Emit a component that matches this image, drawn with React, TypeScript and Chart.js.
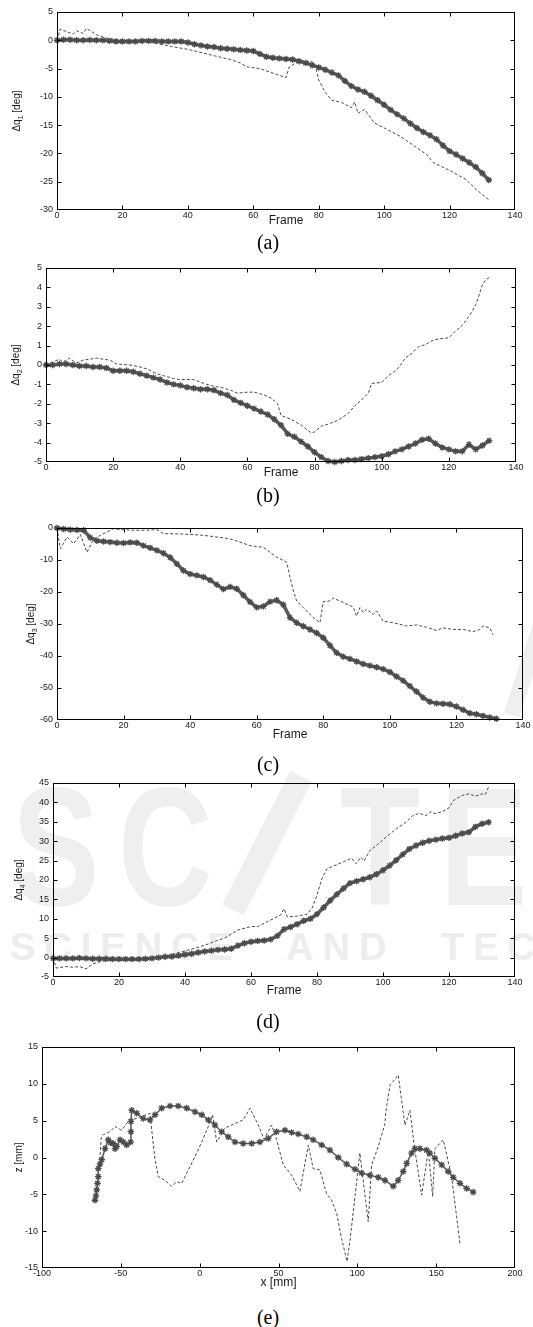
import React, { useEffect, useRef } from "react";
import { Chart, registerables } from "chart.js";

Chart.register(...registerables);

// ---------------- DATA ----------------
const FRAMES = [0, 2, 4, 6, 8, 10, 12, 14, 16, 18, 20, 22, 24, 26, 28, 30, 32, 34, 36, 38, 40, 42, 44, 46, 48, 50, 52, 54, 56, 58, 60, 62, 64, 66, 68, 70, 72, 74, 76, 78, 80, 82, 84, 86, 88, 90, 92, 94, 96, 98, 100, 102, 104, 106, 108, 110, 112, 114, 116, 118, 120, 122, 124, 126, 128, 130, 132];

// (a) joint 1
const Q1_TRACK = [0, 0.1, 0.1, 0, 0, 0.05, 0, 0, -0.1, -0.2,
  -0.2, -0.2, -0.2, -0.1, -0.1, -0.1, -0.2, -0.2, -0.2, -0.2,
  -0.4, -0.7, -0.9, -1.1, -1.2, -1.4, -1.5, -1.6, -1.7, -1.8,
  -1.9, -2.4, -2.9, -3.1, -3.2, -3.3, -3.4, -3.7, -4.0, -4.4,
  -4.8, -5.2, -5.7, -6.2, -7.2, -8.1, -8.7, -9.1, -9.8, -10.6,
  -11.4, -12.3, -13.1, -13.8, -14.7, -15.5, -16.2, -16.8, -17.5, -18.6,
  -19.6, -20.2, -20.9, -21.6, -22.4, -23.5, -24.7];
const Q1_EST_F = [0, 1, 3, 5, 6, 8, 9, 12, 15, 20, 25, 30, 35, 40, 45, 50, 53, 56, 58, 62, 65, 68, 70, 71, 73, 75, 78, 79, 80, 82, 84, 87, 90, 91, 92, 94, 97, 100, 105, 110, 113, 115, 120, 125, 128, 132];
const Q1_EST = [0, 2.0, 1.5, 1.1, 1.7, 1.2, 2.1, 1.0, 0.4, 0.0, -0.2, -0.5, -1.1, -1.6, -2.3, -3.0, -3.4, -4.0, -4.7, -5.0, -5.6, -6.2, -6.6, -4.7, -4.0, -3.7, -3.8, -4.5, -7.0, -9.2, -10.6, -11.0, -11.9, -10.9, -12.9, -12.2, -14.6, -15.5, -17.0, -19.0, -20.2, -21.6, -23.0, -24.6, -26.3, -28.2];

// (b) joint 2
const Q2_TRACK = [0, 0, 0.05, 0.05, 0, -0.05, -0.05, -0.1, -0.1, -0.15,
  -0.3, -0.3, -0.3, -0.35, -0.45, -0.55, -0.65, -0.75, -0.9, -1.0,
  -1.05, -1.15, -1.2, -1.25, -1.25, -1.3, -1.45, -1.55, -1.8, -1.95,
  -2.1, -2.25, -2.4, -2.55, -2.8, -3.1, -3.55, -3.7, -3.95, -4.2,
  -4.5, -4.75, -4.95, -5.0, -4.95, -4.9, -4.9, -4.85, -4.8, -4.75,
  -4.7, -4.6, -4.45, -4.35, -4.2, -4.05, -3.85, -3.8, -4.05, -4.25,
  -4.35, -4.45, -4.45, -4.1, -4.35, -4.15, -3.9];
const Q2_EST_F = [0, 2, 4, 5, 7, 9, 11, 13, 15, 17, 19, 21, 25, 28, 30, 33, 35, 38, 40, 44, 47, 50, 52, 55, 57, 60, 62, 65, 67, 69, 70, 73, 76, 79, 80, 82, 84, 87, 90, 92, 94, 96, 97, 100, 102, 104, 105, 107, 109, 111, 113, 115, 117, 120, 122, 124, 126, 128, 129, 130, 131, 132];
const Q2_EST = [0, 0.15, 0.3, 0.15, 0.35, 0.1, 0.25, 0.3, 0.35, 0.3, 0.25, 0.05, 0, -0.1, -0.2, -0.45, -0.55, -0.7, -0.75, -0.75, -0.95, -1.1, -1.15, -1.3, -1.45, -1.4, -1.4, -1.55, -1.7, -2.0, -2.6, -2.8, -3.1, -3.5, -3.45, -3.15, -3.05, -2.85, -2.5, -2.1, -1.8, -1.45, -0.95, -0.9, -0.55, -0.3, -0.15, 0.35, 0.6, 0.95, 1.05, 1.25, 1.35, 1.4, 1.75, 2.05, 2.5, 3.1, 3.6, 4.15, 4.4, 4.5];

// (c) joint 3
const Q3_TRACK = [0, -0.3, -0.5, -0.6, -0.7, -3.0, -4.0, -4.2, -4.4, -4.6,
  -4.7, -4.5, -4.6, -5.5, -6.2, -7.0, -7.9, -9.2, -11.2, -13.3,
  -14.4, -14.8, -15.3, -16.3, -17.7, -19.1, -18.4, -19.0, -21.0, -23.1,
  -24.8, -24.5, -23.0, -22.6, -24.0, -28.0, -29.6, -30.7, -31.7, -32.8,
  -34.3, -36.7, -39.0, -40.2, -40.9, -41.7, -42.5, -43.0, -43.5, -44.1,
  -45.0, -46.4, -47.7, -49.4, -51.1, -53.0, -54.3, -54.8, -54.9, -55.1,
  -55.8, -56.8, -57.9, -58.2, -58.7, -59.2, -59.6];
const Q3_EST_F = [0, 1, 3, 5, 7, 9, 11, 13, 17, 19, 23, 27, 30, 32, 35, 40, 44, 48, 52, 55, 58, 60, 62, 64, 66, 69, 70, 71, 72, 74, 77, 79, 80, 82, 83, 86, 89, 90, 91, 92, 93, 95, 96, 98, 101, 105, 108, 111, 114, 116, 119, 122, 125, 127, 128, 130, 131];
const Q3_EST = [0, -6.5, -2.8, -4.9, -2.0, -7.6, -3.4, -2.3, -0.2, -0.5, -0.7, -0.7, -0.5, -1.8, -1.8, -2.0, -2.3, -2.8, -3.4, -4.4, -5.5, -5.8, -6.0, -7.6, -9.1, -10.7, -15.4, -19.6, -22.8, -24.9, -28.0, -29.6, -23.0, -22.8, -21.9, -23.3, -24.7, -27.5, -24.9, -26.4, -25.4, -27.0, -25.9, -29.1, -29.6, -30.6, -30.3, -31.0, -32.0, -31.2, -31.7, -31.7, -32.4, -31.7, -30.6, -31.2, -33.3];

// (d) joint 4
const Q4_TRACK = [-0.2, -0.2, -0.2, -0.2, -0.1, -0.2, -0.3, -0.3, -0.3, -0.4,
  -0.4, -0.4, -0.4, -0.4, -0.3, -0.2, 0, 0.2, 0.3, 0.5,
  0.8, 1.0, 1.3, 1.6, 1.8, 2.0, 2.1, 2.3, 3.1, 3.7,
  4.1, 4.3, 4.4, 4.7, 5.6, 7.3, 7.9, 8.6, 9.5, 10.0,
  11.2, 12.9, 14.7, 16.3, 17.8, 19.2, 19.7, 20.2, 20.7, 21.5,
  22.5, 23.7, 25.1, 26.6, 28.0, 28.9, 29.6, 30.1, 30.4, 30.7,
  30.9, 31.4, 32.0, 32.3, 33.7, 34.5, 34.9];
const Q4_EST_F = [0, 1, 4, 6, 8, 10, 12, 15, 20, 25, 31, 35, 39, 43, 47, 50, 52, 56, 60, 62, 66, 69, 70, 71, 74, 77, 78.5, 80, 81.5, 83, 85, 88, 90.5, 91.8, 93.3, 94.3, 96, 98, 101, 104, 107, 109, 111, 113, 114.5, 115.5, 118, 120, 121.5, 124, 126, 128, 130, 131, 132];
const Q4_EST = [0, -2.7, -2.3, -2.5, -2.3, -2.9, -1.6, -0.9, -0.6, -0.4, -0.2, 0.6, 1.5, 2.4, 3.5, 4.5, 5.0, 7.1, 8.0, 8.0, 9.7, 11.0, 12.6, 10.5, 10.7, 11.2, 12.7, 16.1, 20.4, 22.9, 23.6, 24.7, 25.6, 24.2, 25.9, 24.9, 27.6, 28.9, 31.1, 33.2, 34.9, 36.6, 37.2, 36.6, 37.6, 37.1, 37.6, 38.6, 40.6, 41.8, 42.2, 41.6, 42.2, 42.0, 44.0];

// (e) end-effector path x–z
const XZ_TRACK_X = [-66.4, -65.8, -65.3, -64.8, -64.3, -64.3, -63.2, -62.1, -60.0, -58.0, -56.5, -54.8, -53.7, -52.6, -50.5, -48.4, -46.3, -43.8, -43.6, -43.6, -43.1, -39.9, -35.8, -31.5, -28.3, -24.1, -18.8, -13.6, -8.2, -3.0, 1.3, 5.5, 9.7, 13.9, 18.1, 22.4, 27.6, 33.0, 38.2, 43.5, 48.8, 54.1, 58.3, 62.5, 67.9, 72.0, 77.4, 82.6, 87.9, 93.2, 98.5, 102.7, 108.0, 113.3, 117.5, 122.8, 125.9, 129.1, 131.3, 134.4, 136.5, 139.7, 143.9, 146.0, 149.2, 153.5, 157.6, 160.8, 165.1, 169.3, 173.5];
const XZ_TRACK_Z = [-5.8, -5.2, -4.4, -3.5, -2.6, -1.5, -0.9, -0.3, 1.2, 2.4, 2.0, 1.9, 1.2, 1.5, 2.4, 2.1, 1.7, 2.1, 3.5, 4.9, 6.4, 6.0, 5.3, 5.1, 5.8, 6.7, 7.0, 7.0, 6.7, 6.2, 5.8, 5.1, 4.4, 3.5, 2.8, 2.1, 1.9, 1.9, 2.1, 2.6, 3.5, 3.7, 3.4, 3.2, 2.8, 2.4, 1.7, 1.0, 0.0, -0.9, -1.6, -2.1, -2.4, -2.7, -3.1, -3.9, -3.1, -1.9, -0.8, 0.6, 1.2, 1.2, 1.0, 0.6, -0.1, -1.0, -1.9, -2.7, -3.5, -4.2, -4.7];
const XZ_EST_X = [-63.5, -62.5, -61.1, -56.9, -53.7, -49.5, -45.3, -37.9, -31.5, -30.4, -28.3, -26.2, -22.0, -17.8, -14.6, -11.4, -7.2, -3.0, 1.3, 5.5, 8.2, 10.8, 16.0, 22.4, 27.6, 31.9, 37.2, 40.8, 45.7, 48.8, 53.0, 58.3, 63.6, 68.9, 72.0, 76.3, 80.5, 83.7, 86.9, 90.0, 93.5, 95.5, 101.6, 106.9, 109.1, 113.3, 117.5, 118.1, 120.7, 125.9, 130.2, 133.4, 135.9, 140.8, 145.0, 147.8, 149.2, 154.5, 159.8, 165.1];
const XZ_EST_Z = [-1.0, 2.6, 3.1, 3.5, 4.2, 3.7, 4.9, 5.5, 6.0, 3.7, -0.3, -2.6, -3.1, -3.9, -3.3, -3.5, -1.7, 0.1, 2.1, 4.2, 5.8, 2.1, 4.0, 4.6, 5.1, 6.7, 4.4, 2.5, 4.4, 2.4, -1.0, -2.4, -4.6, 1.7, -1.5, -1.7, -4.9, -5.8, -7.6, -11.0, -14.1, -11.0, 0.6, -8.7, -1.0, 1.5, 4.6, 6.2, 9.8, 11.2, 4.4, 6.4, 1.9, -5.1, 1.0, -5.3, 1.2, 2.4, -2.6, -11.7];

const CAPTIONS = ["(a)", "(b)", "(c)", "(d)", "(e)"];

// ---------------- LAYOUT / STYLE ----------------
const FONT = "'Liberation Sans', Arial, Helvetica, sans-serif";
const W = 533;

type Pt = { x: number; y: number };
const zip = (xs: number[], ys: number[]): Pt[] => xs.map((x, i) => ({ x, y: ys[i] }));

type PanelSpec = {
  top: number; height: number; left: number; right: number; plotTop: number; plotBottom: number;
  xMin: number; xMax: number; xStep: number; yMin: number; yMax: number; yStep: number;
  xTitle: string; yMain: string; ySub: string; yRest: string; yLabelX: number;
  solid: Pt[]; dashed: Pt[]; pointRadius: number; lineW: number;
};

const PANELS: PanelSpec[] = [
  {
    top: 0, height: 228, left: 57, right: 515, plotTop: 12, plotBottom: 210,
    xMin: 0, xMax: 140, xStep: 20, yMin: -30, yMax: 5, yStep: 5,
    xTitle: "Frame", yMain: "\u0394q", ySub: "1", yRest: " [deg]", yLabelX: 17,
    solid: zip(FRAMES, Q1_TRACK), dashed: zip(Q1_EST_F, Q1_EST), pointRadius: 3.2, lineW: 3.5,
  },
  {
    top: 250, height: 230, left: 46, right: 516, plotTop: 268, plotBottom: 462,
    xMin: 0, xMax: 140, xStep: 20, yMin: -5, yMax: 5, yStep: 1,
    xTitle: "Frame", yMain: "\u0394q", ySub: "2", yRest: " [deg]", yLabelX: 16,
    solid: zip(FRAMES, Q2_TRACK), dashed: zip(Q2_EST_F, Q2_EST), pointRadius: 3.2, lineW: 3.5,
  },
  {
    top: 505, height: 237, left: 57, right: 523, plotTop: 528, plotBottom: 720,
    xMin: 0, xMax: 140, xStep: 20, yMin: -60, yMax: 0, yStep: 10,
    xTitle: "Frame", yMain: "\u0394q", ySub: "3", yRest: " [deg]", yLabelX: 31,
    solid: zip(FRAMES, Q3_TRACK), dashed: zip(Q3_EST_F, Q3_EST), pointRadius: 3.2, lineW: 3.5,
  },
  {
    top: 765, height: 233, left: 53, right: 515, plotTop: 783, plotBottom: 977,
    xMin: 0, xMax: 140, xStep: 20, yMin: -5, yMax: 45, yStep: 5,
    xTitle: "Frame", yMain: "\u0394q", ySub: "4", yRest: " [deg]", yLabelX: 19,
    solid: zip(FRAMES, Q4_TRACK), dashed: zip(Q4_EST_F, Q4_EST), pointRadius: 3.2, lineW: 3.5,
  },
  {
    top: 1030, height: 260, left: 42, right: 515, plotTop: 1047, plotBottom: 1268,
    xMin: -100, xMax: 200, xStep: 50, yMin: -15, yMax: 15, yStep: 5,
    xTitle: "x [mm]", yMain: "z [mm]", ySub: "", yRest: "", yLabelX: 19,
    solid: zip(XZ_TRACK_X, XZ_TRACK_Z), dashed: zip(XZ_EST_X, XZ_EST_Z), pointRadius: 3.3, lineW: 1.5,
  },
];

const CAPTION_Y = [242, 495, 764, 1021, 1317];

function ChartPanel({ p }: { p: PanelSpec }) {
  const ref = useRef<HTMLCanvasElement | null>(null);
  useEffect(() => {
    const canvas = ref.current;
    if (!canvas) return;
    const xAxisH = p.top + p.height - p.plotBottom;

    const framePlugin = {
      id: "frameTicks",
      afterDraw(chart: any) {
        const { ctx, chartArea: a, scales } = chart;
        ctx.save();
        ctx.strokeStyle = "#000";
        ctx.lineWidth = 1;
        const L = Math.round(a.left) + 0.5, R = Math.round(a.right) - 0.5;
        const T = Math.round(a.top) + 0.5, B = Math.round(a.bottom) - 0.5;
        ctx.strokeRect(L, T, R - L, B - T);
        const tl = 4;
        ctx.beginPath();
        scales.x.ticks.forEach((t: any, i: number) => {
          if (i === 0 || i === scales.x.ticks.length - 1) return;
          const px = Math.round(scales.x.getPixelForValue(t.value)) + 0.5;
          ctx.moveTo(px, B); ctx.lineTo(px, B - tl);
          ctx.moveTo(px, T); ctx.lineTo(px, T + tl);
        });
        scales.y.ticks.forEach((t: any, i: number) => {
          if (i === 0 || i === scales.y.ticks.length - 1) return;
          const py = Math.round(scales.y.getPixelForValue(t.value)) + 0.5;
          ctx.moveTo(L, py); ctx.lineTo(L + tl, py);
          ctx.moveTo(R, py); ctx.lineTo(R - tl, py);
        });
        ctx.stroke();
        ctx.restore();
      },
    };

    const yTitlePlugin = {
      id: "yTitle",
      afterDraw(chart: any) {
        const { ctx, chartArea: a } = chart;
        const cy = (a.top + a.bottom) / 2;
        ctx.save();
        ctx.translate(p.yLabelX, cy);
        ctx.rotate(-Math.PI / 2);
        ctx.fillStyle = "#1a1a1a";
        ctx.textBaseline = "middle";
        ctx.textAlign = "left";
        const f1 = `10px ${FONT}`;
        const f2 = `7px ${FONT}`;
        ctx.font = f1;
        const w1 = ctx.measureText(p.yMain).width;
        const w3 = p.yRest ? ctx.measureText(p.yRest).width : 0;
        ctx.font = f2;
        const w2 = p.ySub ? ctx.measureText(p.ySub).width : 0;
        let x = -(w1 + w2 + w3) / 2;
        ctx.font = f1;
        ctx.fillText(p.yMain, x, 0);
        x += w1;
        if (p.ySub) {
          ctx.font = f2;
          ctx.fillText(p.ySub, x, 4);
          x += w2;
        }
        if (p.yRest) {
          ctx.font = f1;
          ctx.fillText(p.yRest, x, 0);
        }
        ctx.restore();
      },
    };

    const chart = new Chart(canvas, {
      type: "line",
      data: {
        datasets: [
          {
            data: p.solid,
            borderColor: "#5a5a5a",
            borderWidth: p.lineW,
            pointStyle: "star",
            pointRadius: p.pointRadius,
            pointBorderColor: "#4a4a4a",
            pointBackgroundColor: "#4a4a4a",
            pointBorderWidth: 1.3,
            tension: 0,
            clip: false,
          } as any,
          {
            data: p.dashed,
            borderColor: "#4a4a4a",
            borderWidth: 1,
            borderDash: [3, 2],
            pointRadius: 0,
            tension: 0,
            clip: false,
          } as any,
        ],
      },
      options: {
        responsive: false,
        maintainAspectRatio: false,
        animation: false,
        events: [],
        layout: { padding: { top: p.plotTop - p.top, right: W - p.right, left: 0, bottom: 0 } },
        plugins: { legend: { display: false }, tooltip: { enabled: false } },
        scales: {
          x: {
            type: "linear",
            min: p.xMin,
            max: p.xMax,
            ticks: { stepSize: p.xStep, font: { family: FONT, size: 9 }, color: "#1a1a1a", padding: 0, maxRotation: 0, autoSkip: false },
            grid: { display: false, drawTicks: false },
            border: { display: false },
            title: { display: true, text: p.xTitle, font: { family: FONT, size: 12 }, color: "#1a1a1a", padding: 0 },
            afterFit: (s: any) => { s.height = xAxisH; },
          },
          y: {
            type: "linear",
            min: p.yMin,
            max: p.yMax,
            ticks: { stepSize: p.yStep, font: { family: FONT, size: 9 }, color: "#1a1a1a", padding: 4, autoSkip: false },
            grid: { display: false, drawTicks: false },
            border: { display: false },
            afterFit: (s: any) => { s.width = p.left; },
          },
        },
      } as any,
      plugins: [framePlugin, yTitlePlugin],
    });
    return () => chart.destroy();
  }, [p]);

  return (
    <canvas
      ref={ref}
      width={W}
      height={p.height}
      style={{ position: "absolute", left: 0, top: p.top, width: W, height: p.height }}
    />
  );
}

function Watermark() {
  const c = "#efefef";
  const letter = (ch: string, left: number) => (
    <span
      key={ch + left}
      style={{
        position: "absolute", left, top: 763, fontFamily: FONT, fontWeight: 700,
        fontSize: 168, lineHeight: "168px", color: c, transform: "scaleX(0.78)", transformOrigin: "left top",
      }}
    >{ch}</span>
  );
  return (
    <div style={{ position: "absolute", left: 0, top: 0, width: W, height: 1327, overflow: "hidden" }}>
      {letter("S", 12)}
      {letter("C", 118)}
      {letter("T", 340)}
      {letter("E", 440)}
      <div
        style={{
          position: "absolute", left: 192, top: 831, width: 150, height: 24, background: c,
          transform: "rotate(-63deg)", transformOrigin: "center",
        }}
      />
      <div
        style={{
          position: "absolute", left: 470, top: 650, width: 120, height: 16, background: c,
          transform: "rotate(-72deg)", transformOrigin: "center",
        }}
      />
      <div
        style={{
          position: "absolute", left: 10, top: 928, fontFamily: FONT, fontWeight: 700, fontSize: 38,
          lineHeight: "38px", letterSpacing: 9, wordSpacing: 26, color: "#ededed", whiteSpace: "nowrap",
        }}
      >SCIENCE AND TECHNOLOGY</div>
    </div>
  );
}

export default function App() {
  return (
    <div style={{ position: "absolute", left: 0, top: 0, width: W, height: 1327, background: "#fff", overflow: "hidden" }}>
      <Watermark />
      {PANELS.map((p, i) => (
        <ChartPanel key={i} p={p} />
      ))}
      {CAPTIONS.map((c, i) => (
        <div
          key={c}
          style={{
            position: "absolute", left: 0, width: 536, top: CAPTION_Y[i] - 11, height: 22,
            lineHeight: "22px", textAlign: "center", fontFamily: "'Liberation Serif', 'Times New Roman', serif",
            fontSize: 20, color: "#000",
          }}
        >{c}</div>
      ))}
    </div>
  );
}
